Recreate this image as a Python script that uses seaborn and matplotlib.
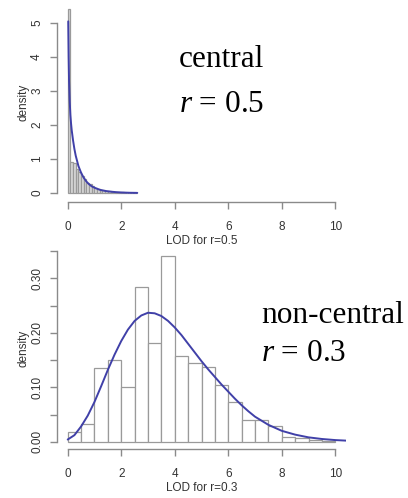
import numpy as np
import pandas as pd
import matplotlib
matplotlib.use("Agg")
import matplotlib.pyplot as plt
import seaborn as sns

sns.set_style("ticks")
plt.rcParams['font.family'] = ['Liberation Sans', 'DejaVu Sans']
plt.rcParams['mathtext.fontset'] = 'custom'
plt.rcParams['mathtext.it'] = 'Liberation Serif:italic'
plt.rcParams['mathtext.rm'] = 'Liberation Serif'

# central, r = 0.5 : histogram of LOD (bin width 0.1) and density curve
bin_c = 0.1
heights_c = [5.4, 0.92, 0.88, 0.72, 0.62, 0.5, 0.42, 0.3, 0.28, 0.2, 0.15, 0.12, 0.09,
             0.08, 0.06, 0.05, 0.04, 0.03, 0.03, 0.02, 0.02, 0.015, 0.01, 0.01, 0.008, 0.005]
curve_c_x = [0.02, 0.035, 0.05, 0.075, 0.1, 0.125, 0.15, 0.2, 0.25, 0.3, 0.4, 0.5, 0.6,
             0.7, 0.8, 0.9, 1.0, 1.2, 1.4, 1.6, 1.8, 2.0, 2.3, 2.6]
curve_c_y = [5.05, 4.0, 3.3, 2.7, 2.3, 2.05, 1.85, 1.55, 1.3, 1.1, 0.8, 0.6, 0.45,
             0.34, 0.26, 0.2, 0.16, 0.1, 0.065, 0.045, 0.03, 0.02, 0.012, 0.008]

# non-central, r = 0.3 : histogram of LOD (bin width 0.5) and density curve
bin_n = 0.5
heights_n = [0.017, 0.033, 0.135, 0.15, 0.10, 0.285, 0.182, 0.341, 0.158, 0.145,
             0.138, 0.105, 0.073, 0.04, 0.04, 0.028, 0.009, 0.006, 0.004, 0.002]
curve_n_x = [0, 0.25, 0.5, 0.75, 1, 1.25, 1.5, 1.75, 2, 2.25, 2.5, 2.75, 3, 3.25, 3.5,
             3.75, 4, 4.25, 4.5, 4.75, 5, 5.25, 5.5, 5.75, 6, 6.25, 6.5, 6.75, 7, 7.5,
             8, 8.5, 9, 9.5, 10, 10.4]
curve_n_y = [0.004, 0.012, 0.028, 0.048, 0.073, 0.102, 0.132, 0.16, 0.185, 0.206,
             0.222, 0.232, 0.237, 0.236, 0.231, 0.222, 0.21, 0.196, 0.18, 0.164, 0.148,
             0.133, 0.119, 0.105, 0.092, 0.079, 0.067, 0.056, 0.046, 0.031, 0.02, 0.013,
             0.008, 0.005, 0.003, 0.002]

axis_col = '#8a8a8a'
text_col = '#333333'
line_col = '#4040a8'

fig = plt.figure(figsize=(4.08, 4.98), dpi=100)
ax1 = fig.add_axes([57/408, 1 - 202/498, 289/408, 199/498])
ax2 = fig.add_axes([57/408, 1 - 449/498, 289/408, 201/498])


def draw(ax, width, heights, cx, cy, fill, ylim, yticks, ylabels, xlabel):
    n = len(heights)
    centers = (np.arange(n) + 0.5) * width
    df = pd.DataFrame({'x': centers, 'w': heights})
    sns.histplot(data=df, x='x', weights='w', binwidth=width, binrange=(0, n * width),
                 stat='count', ax=ax, color=fill, edgecolor='#9a9a9a', linewidth=0.9,
                 alpha=1)
    sns.lineplot(x=cx, y=cy, ax=ax, color=line_col, linewidth=1.4)
    ax.set_xlim(-0.4, 10.4)
    ax.set_ylim(*ylim)
    ax.set_xticks([0, 2, 4, 6, 8, 10])
    ax.set_yticks(yticks)
    ax.set_yticklabels(ylabels, rotation=90, va='center')
    for s in ['top', 'right']:
        ax.spines[s].set_visible(False)
    ax.spines['left'].set_bounds(yticks[0], yticks[-1])
    ax.spines['bottom'].set_bounds(0, 10)
    for s in ['left', 'bottom']:
        ax.spines[s].set_color(axis_col)
        ax.spines[s].set_linewidth(1.0)
    ax.tick_params(colors=axis_col, labelcolor=text_col, labelsize=8.5, length=5,
                   width=1.0)
    ax.tick_params(axis='x', pad=9)
    ax.tick_params(axis='y', pad=5)
    ax.set_xlabel(xlabel, fontsize=8.5, color=text_col, labelpad=1)
    ax.set_ylabel('density', fontsize=8.5, color=text_col, labelpad=1)
    ax.patch.set_alpha(0)


draw(ax1, bin_c, heights_c, curve_c_x, curve_c_y, '#d9d9d9', (-0.26, 5.59),
     [0, 1, 2, 3, 4, 5], ['0', '1', '2', '3', '4', '5'], 'LOD for r=0.5')
draw(ax2, bin_n, heights_n, curve_n_x, curve_n_y, 'white', (-0.0134, 0.356),
     [0, 0.05, 0.1, 0.15, 0.2, 0.25, 0.3, 0.35],
     ['0.00', '', '0.10', '', '0.20', '', '0.30', ''], 'LOD for r=0.3')

serif = dict(fontsize=22.5, family=['Liberation Serif', 'DejaVu Serif'], color='black',
             va='baseline', ha='left')
fig.text(179/408, 1 - 67/498, 'central', **serif)
fig.text(179/408, 1 - 112/498, r'$r$ = 0.5', **serif)
fig.text(261/408, 1 - 323/498, 'non-central', **serif)
fig.text(261/408, 1 - 361/498, r'$r$ = 0.3', **serif)

fig.savefig('out.png', dpi=100)
